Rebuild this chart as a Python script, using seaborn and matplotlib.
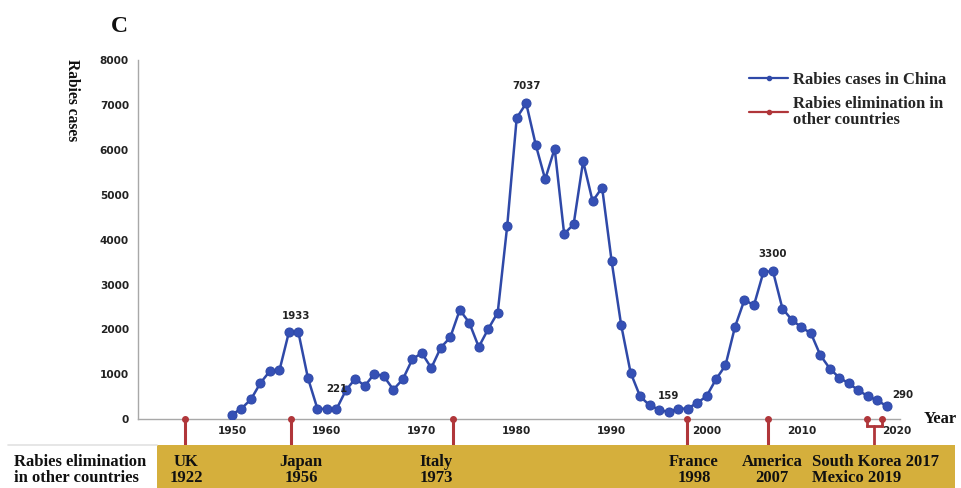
import matplotlib
matplotlib.use("Agg")
import matplotlib.pyplot as plt
import matplotlib.transforms as mtransforms
from matplotlib.lines import Line2D
from matplotlib.patches import Rectangle
import seaborn as sns
import pandas as pd

# ---------------- data ----------------
years = list(range(1950, 2020))
cases = [105, 240, 445, 810, 1075, 1090, 1942, 1933, 920, 235,
         230, 221, 646, 906, 742, 1017, 958, 661, 891, 1336,
         1477, 1143, 1596, 1825, 2435, 2153, 1611, 2011, 2376, 4305,
         6710, 7037, 6117, 5345, 6028, 4127, 4343, 5746, 4855, 5160,
         3526, 2109, 1040, 512, 312, 216, 159, 238, 238, 363,
         512, 891, 1202, 2056, 2660, 2539, 3279, 3300, 2466, 2213,
         2048, 1917, 1425, 1128, 924, 801, 644, 516, 422, 290]

annotated_years = [1956, 1961, 1981, 1996, 2007, 2019]
annotated_texts = ["1933", "221", "7037", "159", "3300", "290"]

countries = ["UK", "Japan", "Italy", "France", "America"]
elim_years = [1922, 1956, 1973, 1998, 2007]
# where the marker sits on the (broken) year axis; UK is before the axis start
elim_marker_years = [1945, 1956.2, 1973.3, 1997.9, 2006.5]
bracket_labels = ["South Korea 2017", "Mexico 2019"]
bracket_marker_years = [2016.9, 2018.5]

x_ticks = [1950, 1960, 1970, 1980, 1990, 2000, 2010, 2020]
y_ticks = [0, 1000, 2000, 3000, 4000, 5000, 6000, 7000, 8000]

# ---------------- style ----------------
BLUE = "#2f49a8"
RED = "#b0363a"
GOLD = "#d5af3c"
GRAY = "#a8a8a8"
SERIF = ["Liberation Serif", "DejaVu Serif"]

sns.set_theme(style="white")
plt.rcParams['font.family'] = ['DejaVu Sans']

W, H = 961, 488
fig = plt.figure(figsize=(W / 100, H / 100), dpi=100)
fig.patch.set_facecolor("white")

ax_l, ax_r, ax_t, ax_b = 138, 900, 60, 419.3
ax = fig.add_axes([ax_l / W, (H - ax_b) / H, (ax_r - ax_l) / W, (ax_b - ax_t) / H])

df = pd.DataFrame({"Year": years, "Cases": cases})
sns.lineplot(data=df, x="Year", y="Cases", ax=ax, color=BLUE, linewidth=1.8,
             marker="o", markersize=6.5, markeredgecolor=BLUE,
             markerfacecolor="#3550b5", zorder=3)

ax.set_xlim(1950 - (232 - ax_l) / 9.49, 1950 + (ax_r - 232) / 9.49)
ax.set_ylim(0, 8000)
ax.set_xticks(x_ticks)
ax.set_yticks(y_ticks)
ax.set_xlabel("")
ax.set_ylabel("")
for s in ["top", "right"]:
    ax.spines[s].set_visible(False)
for s in ["left", "bottom"]:
    ax.spines[s].set_color(GRAY)
    ax.spines[s].set_linewidth(1.0)
ax.tick_params(axis="y", direction="out", length=3, width=0.8, color=GRAY,
               pad=3.5, labelsize=7.6, labelcolor="#222222")
ax.tick_params(axis="x", direction="out", length=2, width=0.8, color=GRAY,
               pad=3, labelsize=7.6, labelcolor="#222222")
for lab in ax.get_xticklabels() + ax.get_yticklabels():
    lab.set_fontweight("bold")

# value annotations
offsets = {"1933": (7, 16), "221": (0, 20), "7037": (0, 17),
           "159": (0, 16), "3300": (0, 17), "290": (16, 11)}
for yr, txt in zip(annotated_years, annotated_texts):
    val = cases[years.index(yr)]
    ax.annotate(txt, xy=(yr, val), xytext=offsets[txt], textcoords="offset pixels",
                ha="center", va="center", fontsize=7.4, fontweight="bold",
                color="#222222", zorder=5)

# elimination markers (stems below the axis into the band)
trans = mtransforms.blended_transform_factory(ax.transData, ax.transAxes)
px = 1.0 / (ax_b - ax_t)  # one pixel in axes fraction
stem_bottom = -(445 - ax_b) * px
for xm in elim_marker_years:
    ax.plot([xm, xm], [0, stem_bottom], transform=trans, color=RED, lw=2.2,
            clip_on=False, zorder=4, solid_capstyle="butt")
    ax.plot([xm], [0], transform=trans, marker="o", ms=4, color=RED,
            clip_on=False, zorder=5)
bracket_y = -(425.5 - ax_b) * px
for xm in bracket_marker_years:
    ax.plot([xm, xm], [0, bracket_y], transform=trans, color=RED, lw=2.0,
            clip_on=False, zorder=4)
    ax.plot([xm], [0], transform=trans, marker="o", ms=4, color=RED,
            clip_on=False, zorder=5)
ax.plot(bracket_marker_years, [bracket_y, bracket_y], transform=trans, color=RED,
        lw=2.0, clip_on=False, zorder=4, solid_capstyle="projecting")
mid = sum(bracket_marker_years) / 2
ax.plot([mid, mid], [bracket_y, stem_bottom], transform=trans, color=RED, lw=2.0,
        clip_on=False, zorder=4)

# ---------------- figure decorations ----------------
def fx(x):
    return x / W

def fy(y):
    return 1 - y / H

BAND_FS = 12
BAND_LS = 0.98

# gold band
fig.patches.append(Rectangle((fx(157), 0), fx(955) - fx(157), fy(445),
                             transform=fig.transFigure, facecolor=GOLD,
                             edgecolor="none", zorder=0))
fig.add_artist(Line2D([fx(8), fx(157)], [fy(444.5), fy(444.5)],
                      transform=fig.transFigure, color="#e2e2e2", lw=1.2))
fig.text(fx(14), fy(470), "Rabies elimination\nin other countries",
         ha="left", va="center", family=SERIF, fontweight="bold",
         fontsize=BAND_FS, linespacing=BAND_LS, color="#111111")

# country labels in the band
label_x = [186, 301, 436, 694, 772]
for c, yr, xp in zip(countries, elim_years, label_x):
    fig.text(fx(xp), fy(470), f"{c}\n{yr}", ha="center", va="center",
             family=SERIF, fontweight="bold", fontsize=BAND_FS,
             linespacing=BAND_LS, color="#111111")
fig.text(fx(812), fy(470), "\n".join(bracket_labels), ha="left", va="center",
         family=SERIF, fontweight="bold", fontsize=BAND_FS, linespacing=BAND_LS,
         color="#111111")

# titles
fig.text(fx(119), fy(26), "C", ha="center", va="center", family=SERIF,
         fontweight="bold", fontsize=17, color="#111111")
fig.text(fx(72), fy(100), "Rabies cases", ha="center", va="center", rotation=270,
         family=SERIF, fontweight="bold", fontsize=11.2, color="#111111")
fig.text(fx(924), fy(419), "Year", ha="left", va="center", family=SERIF,
         fontweight="bold", fontsize=12, color="#111111")

# legend
handles = [Line2D([], [], color=BLUE, lw=1.6, marker="o", ms=3, markevery=[0]),
           Line2D([], [], color=RED, lw=1.6, marker="o", ms=3, markevery=[0])]
leg = ax.legend(handles, ["Rabies cases in China",
                          "Rabies elimination in\nother countries"],
                loc="upper left", bbox_to_anchor=(fx(736), fy(59)),
                bbox_transform=fig.transFigure, frameon=False,
                prop={"family": SERIF, "weight": "bold", "size": 12},
                handlelength=2.3, handletextpad=0.3, labelspacing=0.45,
                borderpad=0.3)
for t in leg.get_texts():
    t.set_linespacing(0.98)

fig.savefig("out.png", dpi=100, facecolor="white")
